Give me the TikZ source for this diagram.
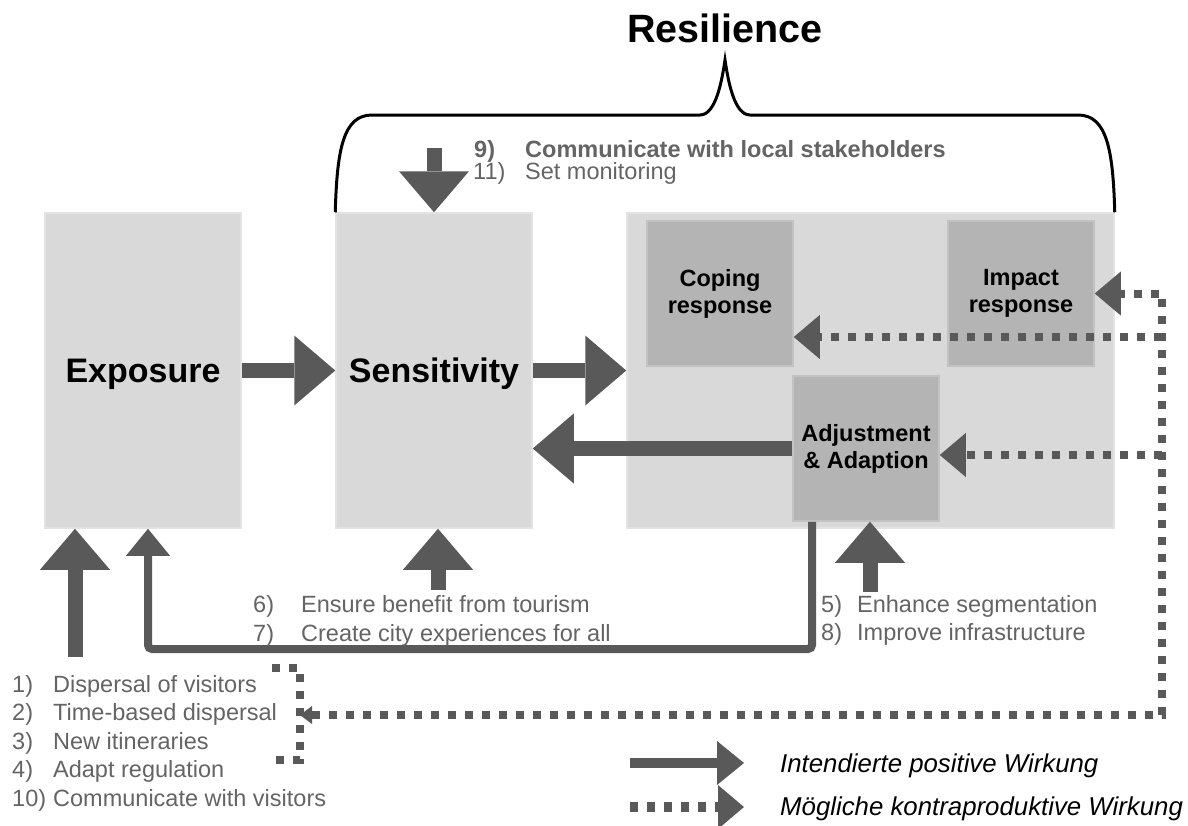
\documentclass[tikz,border=0pt]{standalone}
\usepackage{fontspec}
\setmainfont{Liberation Sans}
\usetikzlibrary{arrows.meta,positioning}

\definecolor{arrowgray}{RGB}{89,89,89}
\definecolor{textgray}{RGB}{100,100,100}
\definecolor{boxgray}{RGB}{217,217,217}
\definecolor{innergray}{RGB}{180,180,180}

\tikzset{
  outerbox/.style={fill=boxgray, draw=black!11, line width=1.5pt, inner sep=0pt,
    text depth=0pt, font=\fontsize{34}{40}\selectfont\bfseries},
  innerbox/.style={fill=innergray, draw=black!24, line width=1.5pt, inner sep=0pt,
    align=center, font=\fontsize{23.5}{27}\selectfont\bfseries},
  bigarrow/.style={arrowgray, line width=15pt,
    -{Triangle[length=41pt,width=70pt,line width=0pt]}},
  thinarrow/.style={arrowgray, line width=8pt,
    -{Triangle[length=27pt,width=44pt,line width=0pt]}},
  dotline/.style={arrowgray, line width=8pt, dash pattern=on 8pt off 9pt},
  dotarrow/.style={dotline, -{Triangle[length=26pt,width=44pt,line width=0pt]}},
  itemtext/.style={textgray, inner sep=0pt, anchor=base west,
    font=\fontsize{23.5}{28}\selectfont},
  legtext/.style={inner sep=0pt, anchor=west, font=\fontsize{25.8}{30}\selectfont\itshape}
}

\begin{document}
\begin{tikzpicture}[x=1pt, y=-1pt]
\useasboundingbox (0,0) rectangle (1188,825);

% boxes
\node[outerbox, minimum width=196pt, minimum height=315pt] (exposure) at (143,370.5) {Exposure};
\node[outerbox, minimum width=196pt, minimum height=315pt] (sensitivity) at (434,370.5) {Sensitivity};
\node[outerbox, minimum width=487pt, minimum height=315pt] (resil) at (870.5,370.5) {};
\node[innerbox, minimum width=146pt, minimum height=145pt] (coping) at (720,293.5) {Coping\\response};
\node[innerbox, minimum width=146pt, minimum height=145pt] (impact) at (1021,293.5) {Impact\\response};
\node[innerbox, minimum width=146pt, minimum height=145pt] (adjust) at (866,448.5) {Adjustment\\\& Adaption};

% resilience brace
\node[font=\fontsize{39.5}{45}\selectfont\bfseries, anchor=base] (title) at (725,42) {Resilience};
\draw[line width=3pt] (sensitivity.north west) .. controls (337,150) and (343,115) .. (372,115)
  -- (700,115) .. controls (716,115) and (722,80) .. (725,60)
  .. controls (728,80) and (734,115) .. (750,115) -- (1078,115)
  .. controls (1107,115) and (1113,150) .. (resil.north east);

% main flow
\draw[bigarrow] (exposure.east) -- (sensitivity.west);
\draw[bigarrow] (sensitivity.east) -- (resil.west);
\draw[bigarrow] (adjust.west) -- (adjust.west -| sensitivity.east);

% measures
\coordinate (topin) at (434,148);
\coordinate (botin) at (438,590);
\coordinate (expin) at (75,657);
\coordinate (adjin) at (870,592);
\draw[bigarrow] (topin) -- (sensitivity.north);
\draw[bigarrow] (botin) -- (botin |- sensitivity.south);
\draw[bigarrow] (expin) -- (expin |- exposure.south);
\draw[bigarrow] (adjin) -- (adjin |- adjust.south);

% feedback to exposure
\coordinate (fb1) at (812,649);
\coordinate (fb2) at (148,649);
\draw[thinarrow, rounded corners=4pt] (fb1 |- adjust.south) -- (fb1) -- (fb2) -- (fb2 |- exposure.south);

% counterproductive effects
\coordinate (leftbr) at (300,715);
\coordinate (dotR) at (1162,715);
\coordinate (copR) at (1162,337);
\coordinate (adjR) at (1162,455);
\draw[dotline] (272,668) -- (300,668) -- (300,760) -- (272,760);
\draw[dotarrow, {Triangle[length=12pt,width=18pt,line width=0pt]}-{Triangle[length=26pt,width=44pt,line width=0pt]}]
  (leftbr) -- (dotR) -- (dotR |- impact.east) -- (impact.east);
\draw[dotarrow] (copR) -- (copR -| coping.east);
\draw[dotarrow] (adjR) -- (adjR -| adjust.east);

% texts
\node[itemtext, font=\fontsize{23.5}{28}\selectfont\bfseries] (m9) at (474,157) {\makebox[51pt][l]{9)}Communicate with local stakeholders};
\node[itemtext] (m11) at (473,179) {\makebox[52pt][l]{11)}Set monitoring};
\node[itemtext] (m6) at (253,612) {\makebox[48pt][l]{6)}Ensure benefit from tourism};
\node[itemtext] (m7) at (253,641) {\makebox[48pt][l]{7)}Create city experiences for all};
\node[itemtext] (m5) at (821,612) {\makebox[36pt][l]{5)}Enhance segmentation};
\node[itemtext] (m8) at (821,640) {\makebox[36pt][l]{8)}Improve infrastructure};
\node[itemtext] (m1) at (12,692) {\makebox[41pt][l]{1)}Dispersal of visitors};
\node[itemtext] (m2) at (12,720.5) {\makebox[41pt][l]{2)}Time-based dispersal};
\node[itemtext] (m3) at (12,749) {\makebox[41pt][l]{3)}New itineraries};
\node[itemtext] (m4) at (12,777.5) {\makebox[41pt][l]{4)}Adapt regulation};
\node[itemtext] (m10) at (12,806) {\makebox[41pt][l]{10)}Communicate with visitors};

% legend
\node[legtext] (leg1) at (780,766) {Intendierte positive Wirkung};
\node[legtext] (leg2) at (780,809) {Mögliche kontraproduktive Wirkung};
\coordinate (legA) at (630,763);
\coordinate (legB) at (630,807);
\draw[thinarrow, line width=10pt] (legA) -- (legA -| 744,0);
\draw[dotarrow, line width=10pt] (legB) -- (legB -| 744,0);
\end{tikzpicture}
\end{document}
